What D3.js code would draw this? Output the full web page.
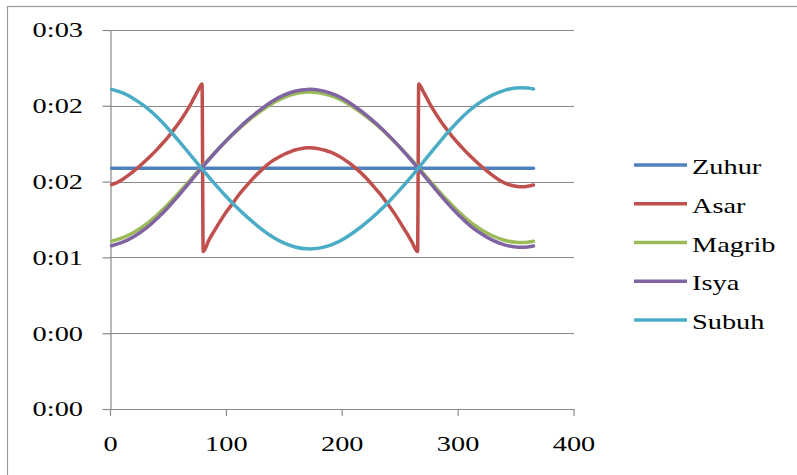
<!DOCTYPE html>
<html>
<head>
<meta charset="utf-8">
<script src="https://cdn.jsdelivr.net/npm/d3@7"></script>
<style>
  body { margin: 0; background: #fff; }
  svg { display: block; }
</style>
</head>
<body>
<svg id="chart" width="797" height="475"></svg>
<script>
// ---- data (values in minutes; axis labels shown as h:mm) ----
const seriesNames = ["Zuhur", "Asar", "Magrib", "Isya", "Subuh"];
const seriesColors = ["#4F81BD", "#C0504D", "#9BBB59", "#8064A2", "#4BACC6"];

const days = [1,10,20,30,40,50,60,70,80,90,100,110,120,130,140,150,160,170,180,190,200,210,220,230,240,250,260,270,280,290,300,310,320,330,340,350,360,365];

const zuhur = days.map(() => 2.286);

const magrib = [1.595,1.625,1.677,1.748,1.840,1.947,2.066,2.190,2.316,2.435,2.549,2.654,2.748,2.832,2.905,2.960,2.996,3.011,3.004,2.977,2.930,2.863,2.785,2.695,2.594,2.484,2.365,2.239,2.113,1.990,1.878,1.780,1.703,1.643,1.603,1.583,1.584,1.593];

const isya = [1.551,1.582,1.637,1.711,1.807,1.919,2.044,2.175,2.306,2.432,2.551,2.660,2.760,2.848,2.925,2.983,3.020,3.036,3.029,3.000,2.951,2.881,2.799,2.704,2.599,2.483,2.358,2.226,2.094,1.965,1.847,1.745,1.664,1.601,1.559,1.538,1.539,1.548];

const subuh = [3.036,3.004,2.948,2.872,2.775,2.660,2.533,2.400,2.266,2.138,2.016,1.904,1.803,1.712,1.634,1.575,1.537,1.521,1.528,1.557,1.608,1.679,1.763,1.860,1.967,2.086,2.213,2.348,2.482,2.614,2.734,2.838,2.921,2.984,3.027,3.049,3.048,3.039];

const asarDays = [1,5,10,15,20,25,30,35,40,45,50,55,60,65,70,75,79,
  80,85,90,95,100,105,110,115,120,125,130,135,140,145,150,155,160,165,170,172,175,180,185,190,195,200,205,210,215,220,225,230,235,240,245,250,255,260,265,
  266,270,275,280,285,290,295,300,305,310,315,320,325,330,335,340,345,350,355,360,365];
const asar = [2.131,2.148,2.178,2.216,2.259,2.306,2.356,2.408,2.464,2.524,2.588,2.658,2.734,2.818,2.911,3.014,3.086,
  1.496,1.606,1.700,1.789,1.873,1.946,2.023,2.090,2.153,2.213,2.266,2.316,2.359,2.391,2.420,2.443,2.462,2.474,2.481,2.482,2.480,2.471,2.458,2.439,2.414,2.383,2.345,2.303,2.255,2.202,2.141,2.077,2.010,1.935,1.858,1.771,1.682,1.589,1.496,
  3.086,3.014,2.911,2.818,2.734,2.658,2.588,2.524,2.464,2.408,2.356,2.306,2.259,2.216,2.178,2.148,2.128,2.116,2.111,2.116,2.128];

const yTickValues = [0, 0.72, 1.44, 2.16, 2.88, 3.6];
const yTickLabels = ["0:00", "0:00", "0:01", "0:02", "0:02", "0:03"];
const xTickValues = [0, 100, 200, 300, 400];
const xTickLabels = ["0", "100", "200", "300", "400"];

// ---- layout ----
const svg = d3.select("#chart");
const FONT = "'Liberation Serif', 'Times New Roman', serif";
const SX = 1.35; // horizontal stretch of the text in the reference

svg.append("rect").attr("x", 7.5).attr("y", 6.5).attr("width", 820).attr("height", 500)
  .attr("fill", "#fff").attr("stroke", "#9a9a9a").attr("stroke-width", 1.2);

const x = d3.scaleLinear().domain([0, 400]).range([110.5, 574]);
const y = d3.scaleLinear().domain([0, 3.6]).range([409, 30]);

// gridlines
svg.append("g").selectAll("line").data(yTickValues).join("line")
  .attr("x1", x(0)).attr("x2", x(400))
  .attr("y1", d => Math.round(y(d)) + 0.5).attr("y2", d => Math.round(y(d)) + 0.5)
  .attr("stroke", "#8a8a8a").attr("stroke-width", 1.2);

// y axis
const yAxis = svg.append("g").attr("transform", `translate(${x(0)},0)`)
  .call(d3.axisLeft(y).tickValues(yTickValues).tickFormat((d, i) => yTickLabels[i]).tickSize(8).tickSizeOuter(0));
yAxis.select(".domain").attr("stroke", "#8a8a8a").attr("stroke-width", 1.2);
yAxis.selectAll(".tick line").attr("stroke", "#8a8a8a").attr("stroke-width", 1.2);
yAxis.selectAll(".tick text")
  .attr("font-family", FONT).attr("font-size", 21).attr("fill", "#000")
  .attr("x", -27.5 / SX).attr("dy", "0.33em")
  .attr("transform", `scale(${SX},1)`);

// x axis
const xAxis = svg.append("g").attr("transform", `translate(0,${y(0)})`)
  .call(d3.axisBottom(x).tickValues(xTickValues).tickFormat((d, i) => xTickLabels[i]).tickSize(7).tickSizeOuter(0));
xAxis.select(".domain").attr("stroke", "#8a8a8a").attr("stroke-width", 1.2);
xAxis.selectAll(".tick line").attr("stroke", "#8a8a8a").attr("stroke-width", 1.2);
xAxis.selectAll(".tick text")
  .attr("font-family", FONT).attr("font-size", 21).attr("fill", "#000")
  .attr("y", 42).attr("dy", 0)
  .attr("transform", `scale(${SX},1)`);
// keep the scaled labels centred on their tick
xAxis.selectAll(".tick").each(function(d) {
  const g = d3.select(this);
  const tx = x(d);
  g.attr("transform", null);
  g.select("line").attr("x1", tx).attr("x2", tx);
  g.select("text").attr("x", tx / SX);
});

// lines
const allSeries = [
  { name: seriesNames[0], color: seriesColors[0], xs: days, ys: zuhur, curve: d3.curveLinear },
  { name: seriesNames[1], color: seriesColors[1], xs: asarDays, ys: asar, curve: d3.curveMonotoneX },
  { name: seriesNames[2], color: seriesColors[2], xs: days, ys: magrib, curve: d3.curveNatural },
  { name: seriesNames[3], color: seriesColors[3], xs: days, ys: isya, curve: d3.curveNatural },
  { name: seriesNames[4], color: seriesColors[4], xs: days, ys: subuh, curve: d3.curveNatural }
];
svg.append("g").selectAll("path").data(allSeries).join("path")
  .attr("d", s => d3.line().x(d => x(d[0])).y(d => y(d[1])).curve(s.curve)(s.xs.map((v, i) => [v, s.ys[i]])))
  .attr("fill", "none").attr("stroke", s => s.color)
  .attr("stroke-width", 3.5).attr("stroke-linejoin", "round").attr("stroke-linecap", "round");

// legend
const legend = svg.append("g");
const lg = legend.selectAll("g").data(allSeries).join("g")
  .attr("transform", (s, i) => `translate(0,${165 + i * 38.75})`);
lg.append("line").attr("x1", 634).attr("x2", 687).attr("y1", 0).attr("y2", 0)
  .attr("stroke", s => s.color).attr("stroke-width", 3.5);
lg.append("text").attr("x", 692 / SX).attr("y", 9).attr("transform", `scale(${SX},1)`)
  .attr("font-family", FONT).attr("font-size", 21).attr("fill", "#000")
  .text(s => s.name);
</script>
</body>
</html>
